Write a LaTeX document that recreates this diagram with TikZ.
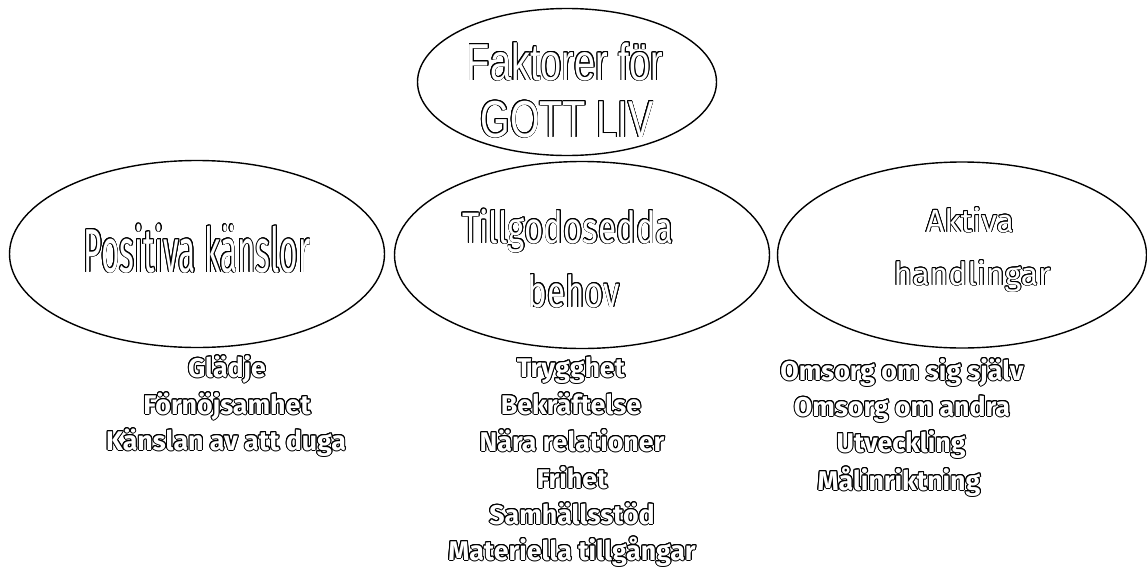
\documentclass[tikz,border=0pt]{standalone}
\usepackage{fontspec}
\usepackage{contour}
\usetikzlibrary{shapes.geometric}
\setmainfont{Fira Sans}
\newfontfamily\narrowfont[FakeStretch=0.73]{Liberation Sans}
\newfontfamily\headA[FakeStretch=0.51]{Fira Sans}
\newfontfamily\headB[FakeStretch=0.75]{Fira Sans}
\newfontfamily\headC[FakeStretch=1.0]{Fira Sans}
\newfontfamily\listfont[FakeStretch=0.99]{Fira Sans Bold}
\newcommand{\ol}[1]{\contour{black}{\textcolor{white}{#1}}}
\begin{document}
\begin{tikzpicture}[x=1pt,y=-1pt,
  oval/.style={draw=black,line width=1.4pt,ellipse,inner sep=0pt},
  txt/.style={anchor=base,inner sep=0pt},
  toptxt/.style={txt,font=\narrowfont\fontsize{52}{52}\selectfont\contourlength{0.8pt}},
  headtxtA/.style={txt,font=\headA\fontsize{62}{62}\selectfont\contourlength{0.8pt}},
  headtxtB/.style={txt,font=\headB\fontsize{44}{44}\selectfont\contourlength{0.8pt}},
  headtxtC/.style={txt,font=\headC\fontsize{32}{32}\selectfont\contourlength{0.8pt}},
  listtxt/.style={txt,font=\listfont\fontsize{27}{27}\selectfont\contourlength{1pt}}]
\useasboundingbox (0,0) rectangle (1147,570);
% ellipses
\node[oval,minimum width=299pt,minimum height=147pt] (top) at (567,82) {};
\node[oval,minimum width=375pt,minimum height=187pt] (left) at (197,254) {};
\node[oval,minimum width=375pt,minimum height=187pt] (mid) at (582,255) {};
\node[oval,minimum width=369pt,minimum height=186pt] (right) at (962,255) {};
% titles
\node[toptxt] (t1) at (565,80) {\ol{Faktorer för}};
\node[toptxt] (t2) at (567,137) {\ol{GOTT LIV}};
\node[headtxtA] (l1) at (197,272) {\ol{Positiva känslor}};
\node[headtxtB] (m1) at (568,243) {\ol{Tillgodosedda}};
\node[headtxtB] (m2) at (574,307) {\ol{behov}};
\node[headtxtC] (r1) at (970,232) {\ol{Aktiva}};
\node[headtxtC] (r2) at (972,285) {\ol{handlingar}};
% left list
\node[listtxt] (a1) at (227,377) {\ol{Glädje}};
\node[listtxt] (a2) at (227,414) {\ol{Förnöjsamhet}};
\node[listtxt] (a3) at (226,450) {\ol{Känslan av att duga}};
% middle list
\node[listtxt] (b1) at (571,377) {\ol{Trygghet}};
\node[listtxt] (b2) at (571,414) {\ol{Bekräftelse}};
\node[listtxt] (b3) at (572,451) {\ol{Nära relationer}};
\node[listtxt] (b4) at (572,488) {\ol{Frihet}};
\node[listtxt] (b5) at (572,524) {\ol{Samhällsstöd}};
\node[listtxt] (b6) at (572,560) {\ol{Materiella tillgångar}};
% right list
\node[listtxt] (c1) at (902,380) {\ol{Omsorg om sig själv}};
\node[listtxt] (c2) at (902,416) {\ol{Omsorg om andra}};
\node[listtxt] (c3) at (901,452) {\ol{Utveckling}};
\node[listtxt] (c4) at (899,490) {\ol{Målinriktning}};
\end{tikzpicture}
\end{document}
